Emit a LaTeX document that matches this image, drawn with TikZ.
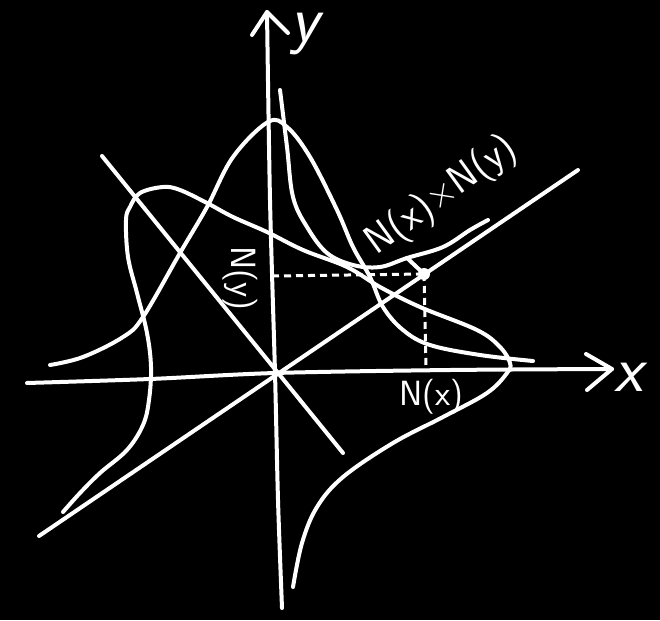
\documentclass[tikz,border=0pt]{standalone}
\begin{document}
\begin{tikzpicture}[x=1pt,y=-1pt,
  chalk/.style={draw=white,line width=4pt,line cap=round,line join=round},
  dotline/.style={draw=white,line width=3pt,dash pattern=on 7pt off 5pt},
  lab/.style={text=white,font=\sffamily\fontsize{35}{35}\selectfont,inner sep=0pt},
  axlab/.style={text=white,font=\sffamily\itshape\fontsize{66}{66}\selectfont,inner sep=0pt,anchor=base}]
\fill[black] (0,0) rectangle (660,620);
\useasboundingbox (0,0) rectangle (660,620);
% key points
\coordinate (O) at (275,373);
\coordinate (xs) at (27,383);
\coordinate (xt) at (612,369);
\coordinate (ys) at (282,608);
\coordinate (yt) at (267,12);
\coordinate (P) at (424,274);
\coordinate (Py) at (272,276);
\coordinate (Px) at (426,370);
\coordinate (d1a) at (102,156);
\coordinate (d1b) at (343,453);
\coordinate (d2a) at (39,536);
\coordinate (d2b) at (578,170);
\coordinate (tk) at (407,258);
% axes
\draw[chalk] plot[smooth] coordinates {(xs) (150,379) (O) (450,370) (xt)};
\draw[chalk] (586,354) -- (xt) -- (587,390);
\draw[chalk] plot[smooth] coordinates {(ys) (278,500) (O) (270,200) (yt)};
\draw[chalk] (252,35) -- (yt) -- (288,33);
\node[axlab] (xl) at (629,391) {x};
\node[axlab] (yl) at (305,42) {y};
% diagonal lines
\draw[chalk] (d1a) -- (d1b);
\draw[chalk] (d2a) -- (d2b);
% bell curve A (peak up)
\draw[chalk] plot[smooth,tension=0.6] coordinates {(50,365) (83,357) (123,337) (143,317) (180,253) (207,207) (233,157) (268,122) (287,127) (310,157) (337,210) (353,247) (370,277) (383,307) (403,330) (430,345) (480,355) (533,361)};
% sideways curve B
\draw[chalk] plot[smooth,tension=0.6] coordinates {(293,587) (302,543) (317,507) (343,477) (393,443) (443,417) (487,393) (507,373) (510,363) (500,347) (477,330) (420,307) (380,287) (347,267) (303,250) (267,232) (233,217) (207,203) (180,190) (163,187) (140,193) (130,207) (126,220) (128,257) (137,293) (147,333) (151,367) (149,400) (143,425) (127,450) (100,473) (80,493) (63,512)};
% curve C
\draw[chalk] plot[smooth,tension=0.6] coordinates {(280,90) (287,147) (293,197) (307,227) (327,253) (353,265) (380,267) (tk) (443,247) (470,230) (488,220)};
\draw[chalk] (tk) -- (P);
% projections
\draw[dotline] (Py) -- (P);
\draw[dotline] (P) -- (Px);
\fill[white] (P) circle (6pt);
% labels
\node[lab,rotate=36,font=\sffamily\fontsize{40}{40}\selectfont] (nxy) at (442,196) {N(x)×N(y)};
\node[lab,rotate=-90] (ny) at (240,278) {N(y)};
\node[lab] (nx) at (431,397) {N(x)};
\end{tikzpicture}
\end{document}
